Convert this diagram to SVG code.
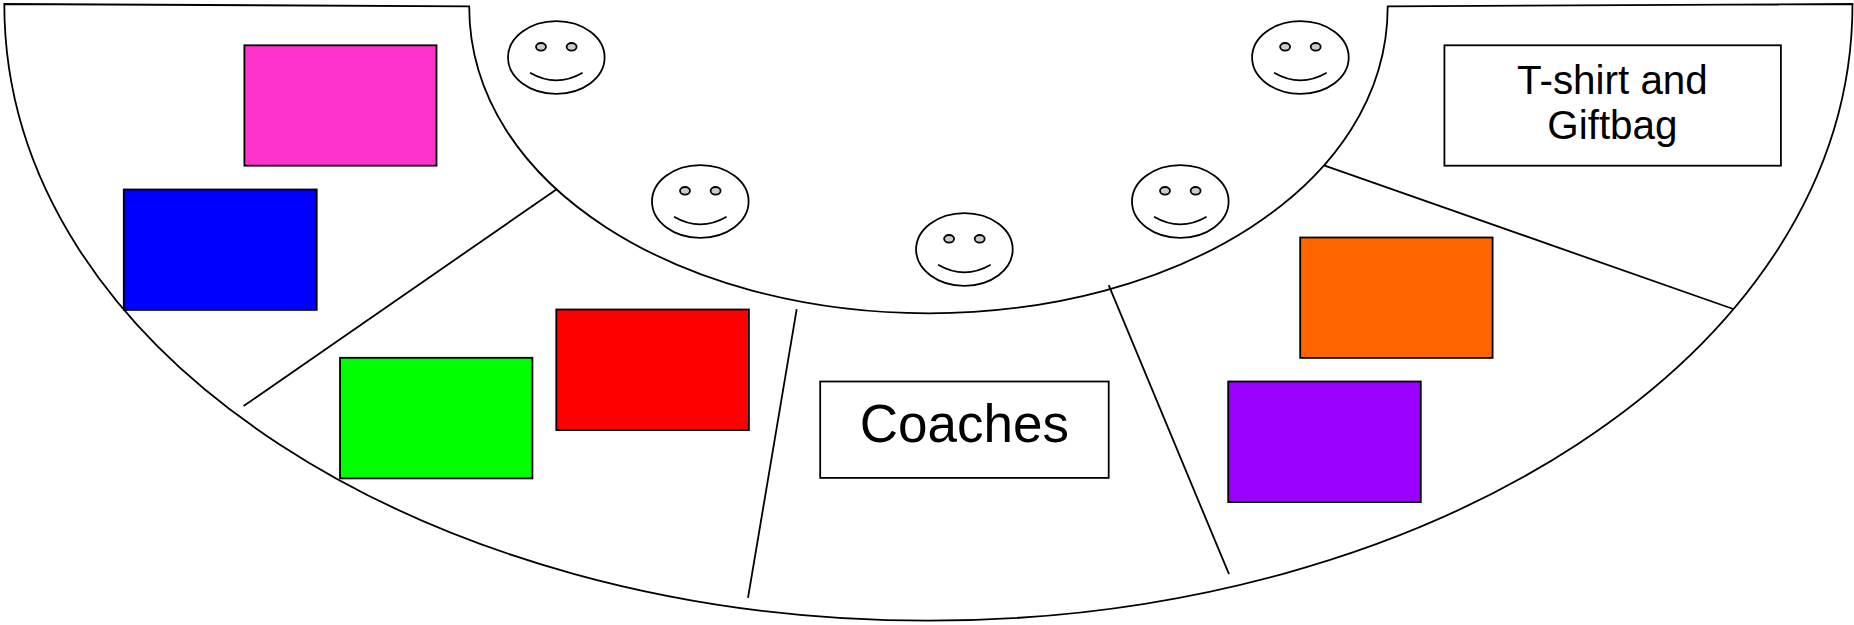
<svg xmlns="http://www.w3.org/2000/svg" width="1854" height="625" viewBox="0 0 1854 625">
<style>
.s{stroke:#000;stroke-width:1.8}
.f{fill:#fff}
.c{fill:none;stroke:#000;stroke-width:1.8}
.e{fill:#ccc;stroke:#000;stroke-width:1.8}
text{font-family:"Liberation Sans",Arial,sans-serif;fill:#000;text-anchor:middle}
</style>
<defs>
<g id="face">
<ellipse class="c" cx="0" cy="0" rx="48.3" ry="36.3"/>
<ellipse class="e" cx="-15.3" cy="-10.7" rx="5" ry="3.8"/>
<ellipse class="e" cx="15.3" cy="-10.7" rx="5" ry="3.8"/>
<path class="c" d="M-26.3 15.3Q0 30.5 26.3 15.3"/>
</g>
</defs>
<rect width="1854" height="625" fill="#fff"/>
<g id="floor"><path class="s f" d="M4.3 4L469.2 6.3C469.2 185.9 680.45 313.3 928.45 313.3C1176.45 313.3 1387.7 185.9 1387.7 6.3L1852.5 4C1852.5 355.5 1427.4 620.7 928.4 620.7C429.4 620.7 4.3 355.5 4.3 4Z"/></g>
<g id="connectors">
<line class="s" x1="556.7" y1="189.2" x2="243.6" y2="406.1"/>
<line class="s" x1="796.7" y1="309.2" x2="748" y2="597.8"/>
<line class="s" x1="1108.7" y1="285.2" x2="1229" y2="574.2"/>
<line class="s" x1="1324" y1="165.4" x2="1733.3" y2="309"/>
</g>
<g id="pink"><rect class="s" x="244.4" y="45.3" width="192.1" height="120.4" fill="#ff33cc"/></g>
<g id="blue"><rect class="s" x="123.8" y="189.5" width="192.9" height="120.4" fill="#00f"/></g>
<g id="red"><rect class="s" x="556.3" y="309.5" width="192.6" height="120.6" fill="#f00"/></g>
<g id="green"><rect class="s" x="340" y="357.8" width="192.4" height="120.6" fill="#0f0"/></g>
<g id="coaches"><rect class="s f" x="820.2" y="381.5" width="288.5" height="96.4"/><text x="964.4" y="441.5" font-size="53">Coaches</text></g>
<g id="purple"><rect class="s" x="1228.2" y="381.5" width="192.6" height="120.6" fill="#90f"/></g>
<g id="orange"><rect class="s" x="1300.2" y="237.5" width="192.4" height="120.4" fill="#f60"/></g>
<g id="tshirt"><rect class="s f" x="1444.4" y="45.3" width="336.5" height="120.4"/><text x="1612.4" y="93.5" font-size="40.4">T-shirt and</text><text x="1612.4" y="139" font-size="40.4">Giftbag</text></g>
<g id="face1"><use href="#face" x="556.3" y="57.5"/></g>
<g id="face2"><use href="#face" x="1300.4" y="57.5"/></g>
<g id="face3"><use href="#face" x="700.3" y="201.5"/></g>
<g id="face4"><use href="#face" x="1180.3" y="201.5"/></g>
<g id="face5"><use href="#face" x="964.4" y="249.5"/></g>
</svg>
